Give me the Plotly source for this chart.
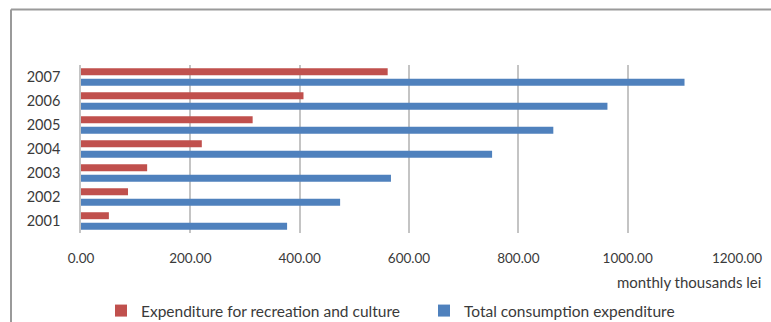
import plotly.graph_objects as go

years = ["2001", "2002", "2003", "2004", "2005", "2006", "2007"]
recreation = [51, 86, 121, 221, 314, 407, 561]
total = [377, 474, 567, 752, 864, 963, 1104]
x_ticks = [0, 200, 400, 600, 800, 1000, 1200]
x_tick_text = ["0.00", "200.00", "400.00", "600.00", "800.00", "1000.00", "1200.00"]

RED = "#C0504D"
BLUE = "#4F81BD"
TEXT = "#3a3a3a"
FONT = "Lato, Open Sans, sans-serif"

W, H = 771, 322
L, R, T, B = 81, 34, 65, 89

fig = go.Figure()
# blue first so that the red bar sits above it within each year
fig.add_trace(go.Bar(
    y=years, x=total, orientation="h", name="Total consumption expenditure",
    marker=dict(color=BLUE, line=dict(width=0)), legendrank=2,
))
fig.add_trace(go.Bar(
    y=years, x=recreation, orientation="h", name="Expenditure for recreation and culture",
    marker=dict(color=RED, line=dict(width=0)), legendrank=1,
))

pw = W - L - R
ph = H - T - B


def px_x(v):
    return (v - L) / pw


def px_y(v):
    return (H - B - v) / ph


fig.update_layout(
    width=W, height=H,
    margin=dict(l=L, r=R, t=T, b=B, autoexpand=False),
    paper_bgcolor="white", plot_bgcolor="white",
    barmode="group", bargap=0.12, bargroupgap=0.34,
    font=dict(family=FONT, size=13, color=TEXT),
    showlegend=True,
    legend=dict(
        orientation="h", xref="container", yref="container",
        x=101 / W, y=1 - 311 / H, yanchor="middle", xanchor="left",
        font=dict(size=15.5, color=TEXT), itemwidth=30, entrywidth=278, entrywidthmode="pixels",
        bgcolor="rgba(0,0,0,0)", tracegroupgap=0,
    ),
    xaxis=dict(
        range=[0, 1200], tickvals=x_ticks, ticktext=x_tick_text,
        showgrid=True, gridcolor="#C4C4C4", gridwidth=1.5,
        zeroline=False, showline=False, ticks="", ticklabelstandoff=15,
        tickfont=dict(size=13.5, color=TEXT), fixedrange=True,
    ),
    yaxis=dict(
        type="category", categoryorder="array", categoryarray=years,
        showgrid=False, zeroline=False, showline=True, linecolor="#C4C4C4", linewidth=1.5,
        ticks="", ticklabelstandoff=16, tickfont=dict(size=14.5, color=TEXT), fixedrange=True,
    ),
    annotations=[dict(
        text="monthly thousands lei", xref="paper", yref="paper",
        x=px_x(763), y=px_y(282), xanchor="right", yanchor="middle",
        showarrow=False, font=dict(size=15, color=TEXT),
    )],
    shapes=[
        # chart frame, open on the right and bottom
        dict(type="line", xref="paper", yref="paper", x0=px_x(11), x1=px_x(771),
             y0=px_y(9.5), y1=px_y(9.5), line=dict(color="#9a9a9a", width=2)),
        dict(type="line", xref="paper", yref="paper", x0=px_x(11), x1=px_x(11),
             y0=px_y(9.5), y1=px_y(322), line=dict(color="#9a9a9a", width=2)),
    ],
)

fig.write_html("out.html")
